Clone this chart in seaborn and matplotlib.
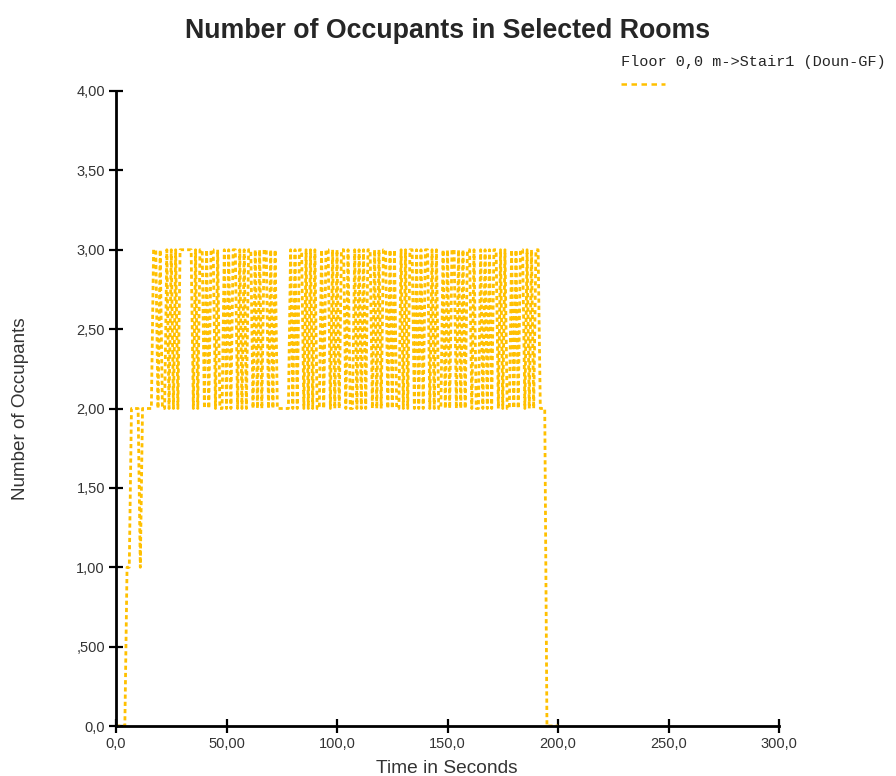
import numpy as np
import pandas as pd
import matplotlib as mpl
from matplotlib import pyplot as plt
from matplotlib.lines import Line2D
import seaborn as sns

# occupants in the room, sampled every second (t = 0 ... 200 s)
occupants = [
    0, 0, 0, 0, 0, 1, 1, 2, 2, 2,
    2, 1, 2, 2, 2, 2, 2, 3, 3, 2,
    3, 2, 2, 3, 2, 3, 2, 3, 2, 3,
    3, 3, 3, 3, 3, 2, 3, 2, 3, 3,
    2, 3, 2, 3, 3, 2, 3, 2, 2, 3,
    2, 3, 2, 3, 3, 2, 3, 2, 3, 2,
    3, 3, 2, 3, 2, 3, 2, 3, 3, 2,
    3, 2, 3, 2, 2, 2, 2, 2, 2, 3,
    2, 3, 2, 3, 3, 2, 3, 2, 3, 2,
    3, 2, 2, 3, 2, 3, 3, 2, 3, 2,
    3, 2, 3, 3, 2, 3, 2, 2, 3, 2,
    3, 2, 3, 2, 3, 3, 2, 3, 2, 3,
    2, 3, 3, 2, 3, 2, 3, 2, 2, 3,
    2, 3, 2, 3, 3, 2, 3, 2, 3, 2,
    3, 3, 2, 3, 2, 3, 2, 2, 3, 2,
    3, 2, 3, 3, 2, 3, 2, 3, 2, 3,
    3, 2, 3, 2, 2, 3, 2, 3, 2, 3,
    2, 3, 3, 2, 3, 2, 3, 2, 2, 3,
    2, 3, 2, 3, 3, 2, 3, 2, 3, 2,
    3, 3, 2, 2, 2, 0, 0, 0, 0, 0,
    0,
]
times = list(range(len(occupants)))

xticks = [0, 50, 100, 150, 200, 250, 300]
xticklabels = ['0,0', '50,00', '100,0', '150,0', '200,0', '250,0', '300,0']
yticks = [0, 0.5, 1, 1.5, 2, 2.5, 3, 3.5, 4]
yticklabels = ['0,0', ',500', '1,00', '1,50', '2,00', '2,50', '3,00', '3,50', '4,00']

series_name = 'Floor 0,0 m->Stair1 (Doun-GF)'
line_color = '#FFC000'

df = pd.DataFrame({'Time': times, 'Occupants': occupants})

sns.set_style("white")
plt.rcParams['font.family'] = ['Liberation Sans', 'DejaVu Sans']

fig = plt.figure(figsize=(8.96, 7.76), dpi=100)
ax = fig.add_axes([116/896, 1-726/776, 663/896, 635/776])

sns.lineplot(data=df, x='Time', y='Occupants', ax=ax, color=line_color,
             linewidth=2.0, linestyle=(0, (1.5, 1.1)), legend=False)

ax.set_xlim(0, 300)
ax.set_ylim(0, 4)
ax.set_xticks(xticks)
ax.set_xticklabels(xticklabels)
ax.set_yticks(yticks)
ax.set_yticklabels(yticklabels)
ax.tick_params(bottom=True, left=True, direction='inout', length=10,
               width=1.6, colors='black', labelsize=10.5,
               labelcolor='#333333', pad=3)
sns.despine(ax=ax)
for s in ['left', 'bottom']:
    ax.spines[s].set_linewidth(2)
    ax.spines[s].set_color('black')
    ax.spines[s].set_zorder(3)

ax.set_xlabel('Time in Seconds', fontsize=13.8, color='#333333')
ax.set_ylabel('Number of Occupants', fontsize=13.6, color='#333333')
ax.xaxis.set_label_coords(0.499, -0.053)
ax.yaxis.set_label_coords(-0.131, 0.5)

fig.text(0.499, 1-31/776, 'Number of Occupants in Selected Rooms',
         ha='center', va='center', fontsize=19.3, fontweight='bold')

# legend: monospace label with dashed sample underneath
fig.text(621/896, 1-62/776, series_name, ha='left', va='center',
         fontsize=11.0, family=['Liberation Mono', 'DejaVu Sans Mono'])
fig.add_artist(Line2D([621/896, 665/896], [1-84/776, 1-84/776],
                      transform=fig.transFigure, color=line_color,
                      linewidth=1.8, linestyle=(0, (2.2, 1.8))))

fig.savefig('out.png', dpi=100)
